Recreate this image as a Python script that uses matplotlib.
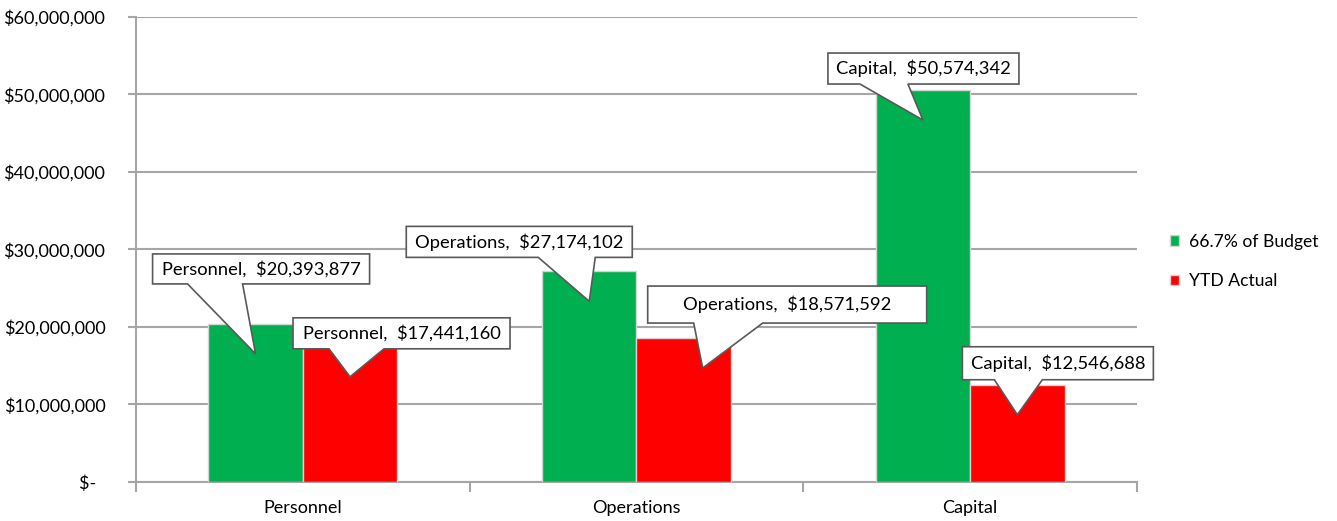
import matplotlib.pyplot as plt
import matplotlib.transforms as mtransforms
from matplotlib.patches import Polygon
import numpy as np

plt.rcParams['font.family'] = ['Lato', 'DejaVu Sans']

categories = ['Personnel', 'Operations', 'Capital']
budget = [20393877, 27174102, 50574342]
actual = [17441160, 18571592, 12546688]
series_names = ['66.7% of Budget', 'YTD Actual']

GREEN = '#00B050'
RED = '#FF0000'
GRID = '#a6a6a6'

fig = plt.figure(figsize=(13.37, 5.21), dpi=100)
ax = fig.add_axes([0.1017, 0.0749, 0.7487, 0.8925])

x = np.arange(len(categories))
w = 0.283
b1 = ax.bar(x - w / 2, budget, w, color=GREEN, edgecolor='#d4d4d4', linewidth=1, label=series_names[0], zorder=3)
b2 = ax.bar(x + w / 2, actual, w, color=RED, edgecolor='#d4d4d4', linewidth=1, label=series_names[1], zorder=3)

ax.set_xlim(-0.5, 2.5)
ax.set_ylim(0, 60000000)
ax.set_yticks(np.arange(0, 60000001, 10000000))
ax.set_yticklabels(['$-  '] + ['${:,.0f}'.format(v) for v in range(10000000, 60000001, 10000000)])
ax.yaxis.grid(True, color=GRID, linewidth=1.5, zorder=0)
ax.set_xticks(x)
ax.set_xticklabels(categories)
ax.set_xticks([-0.5, 0.5, 1.5, 2.5], minor=True)
ax.tick_params(axis='x', which='major', length=0, pad=13, labelsize=13)
ax.tick_params(axis='x', which='minor', length=7, color=GRID, width=1.5)
ax.tick_params(axis='y', length=6, color=GRID, width=1.5, labelsize=13, pad=16)
for s in ['top', 'right']:
    ax.spines[s].set_visible(False)
for s in ['left', 'bottom']:
    ax.spines[s].set_color(GRID)
    ax.spines[s].set_linewidth(1.5)

# callout shapes in pixels: (tip dx, box left, right, bottom, top, pointer base left, right)
shapes = [
    (0, -103, 114, 70, 100, -68, -13),
    (0, -57, 160, 28, 59, -21, 34),
    (0, -183, 43, 44, 75, -51, 6),
    (19, -55, 224, 45, 82, -9, 60),
    (0, -95, 96, 36, 67, -63, -15),
    (0, -55, 136, 35, 68, -23, 25),
]

bars = []
for i, c in enumerate(categories):
    bars.append((x[i] - w / 2, budget[i], c))
    bars.append((x[i] + w / 2, actual[i], c))

for (bx, val, c), (tdx, L, R, B, T, p1, p2) in zip(bars, shapes):
    # tip sits 30 px below the bar top
    tr = mtransforms.Affine2D().translate(tdx, -30) + mtransforms.ScaledTranslation(bx, val, ax.transData)
    verts = [(L, B), (p1, B), (0, 0), (p2, B), (R, B), (R, T), (L, T)]
    poly = Polygon(verts, closed=True, facecolor='white', edgecolor='#595959',
                   linewidth=1.2, transform=tr, zorder=5, clip_on=False)
    ax.add_patch(poly)
    ax.text((L + R) / 2, (B + T) / 2, '{},  ${:,.0f}'.format(c, val), transform=tr,
            ha='center', va='center', fontsize=13.2, color='black', zorder=6)

fig.legend(handles=[b1, b2], loc='center left', bbox_to_anchor=(0.863, 0.498),
           frameon=False, fontsize=12.6, handlelength=0.55, handleheight=0.55,
           handletextpad=0.55, labelspacing=1.35)

plt.savefig('out.png', dpi=100)
